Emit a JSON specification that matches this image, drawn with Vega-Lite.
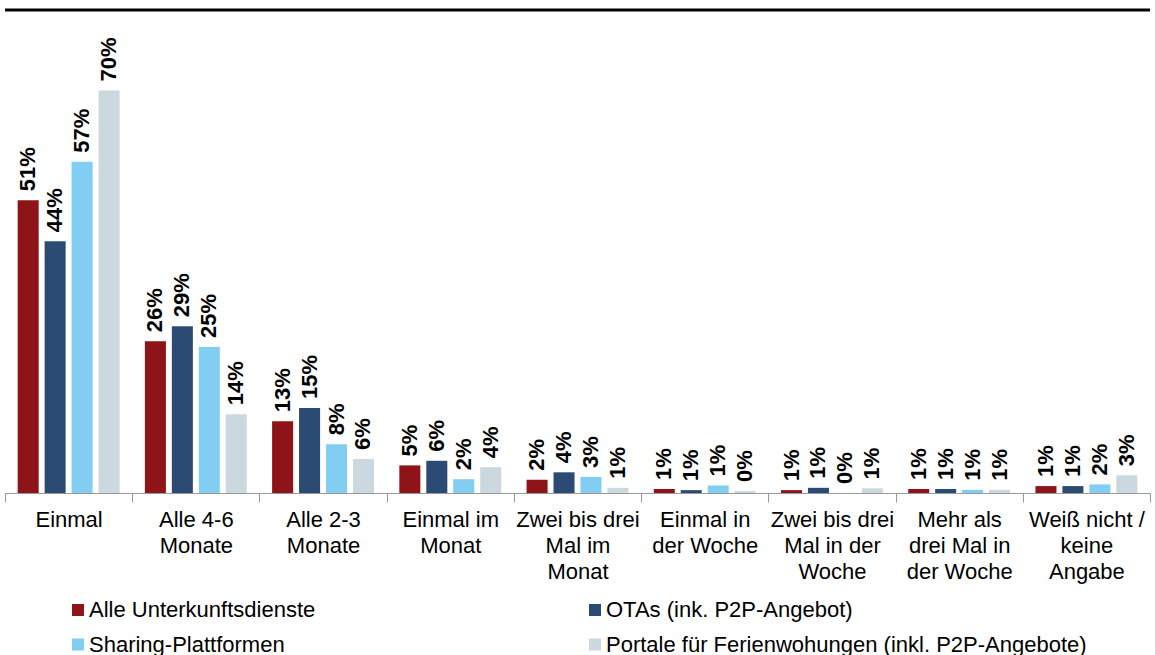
{
  "$schema": "https://vega.github.io/schema/vega-lite/v6.json",
  "width": 1145,
  "height": 483,
  "autosize": {"type": "none"},
  "padding": {"left": 5, "top": 10, "right": 5, "bottom": 162},
  "background": "white",
  "config": {"view": {"stroke": null}, "font": "Liberation Sans"},
  "data": {"values": [
    {"cat": "Einmal", "series": "Alle Unterkunftsdienste", "value": 50.9, "label": "51%"},
    {"cat": "Einmal", "series": "OTAs (ink. P2P-Angebot)", "value": 43.8, "label": "44%"},
    {"cat": "Einmal", "series": "Sharing-Plattformen", "value": 57.6, "label": "57%"},
    {"cat": "Einmal", "series": "Portale für Ferienwohungen (inkl. P2P-Angebote)", "value": 70, "label": "70%"},
    {"cat": "Alle 4-6|Monate", "series": "Alle Unterkunftsdienste", "value": 26.4, "label": "26%"},
    {"cat": "Alle 4-6|Monate", "series": "OTAs (ink. P2P-Angebot)", "value": 29.0, "label": "29%"},
    {"cat": "Alle 4-6|Monate", "series": "Sharing-Plattformen", "value": 25.4, "label": "25%"},
    {"cat": "Alle 4-6|Monate", "series": "Portale für Ferienwohungen (inkl. P2P-Angebote)", "value": 13.7, "label": "14%"},
    {"cat": "Alle 2-3|Monate", "series": "Alle Unterkunftsdienste", "value": 12.5, "label": "13%"},
    {"cat": "Alle 2-3|Monate", "series": "OTAs (ink. P2P-Angebot)", "value": 14.8, "label": "15%"},
    {"cat": "Alle 2-3|Monate", "series": "Sharing-Plattformen", "value": 8.5, "label": "8%"},
    {"cat": "Alle 2-3|Monate", "series": "Portale für Ferienwohungen (inkl. P2P-Angebote)", "value": 5.9, "label": "6%"},
    {"cat": "Einmal im|Monat", "series": "Alle Unterkunftsdienste", "value": 4.8, "label": "5%"},
    {"cat": "Einmal im|Monat", "series": "OTAs (ink. P2P-Angebot)", "value": 5.6, "label": "6%"},
    {"cat": "Einmal im|Monat", "series": "Sharing-Plattformen", "value": 2.4, "label": "2%"},
    {"cat": "Einmal im|Monat", "series": "Portale für Ferienwohungen (inkl. P2P-Angebote)", "value": 4.5, "label": "4%"},
    {"cat": "Zwei bis drei|Mal im|Monat", "series": "Alle Unterkunftsdienste", "value": 2.3, "label": "2%"},
    {"cat": "Zwei bis drei|Mal im|Monat", "series": "OTAs (ink. P2P-Angebot)", "value": 3.6, "label": "4%"},
    {"cat": "Zwei bis drei|Mal im|Monat", "series": "Sharing-Plattformen", "value": 2.8, "label": "3%"},
    {"cat": "Zwei bis drei|Mal im|Monat", "series": "Portale für Ferienwohungen (inkl. P2P-Angebote)", "value": 0.9, "label": "1%"},
    {"cat": "Einmal in|der Woche", "series": "Alle Unterkunftsdienste", "value": 0.7, "label": "1%"},
    {"cat": "Einmal in|der Woche", "series": "OTAs (ink. P2P-Angebot)", "value": 0.5, "label": "1%"},
    {"cat": "Einmal in|der Woche", "series": "Sharing-Plattformen", "value": 1.3, "label": "1%"},
    {"cat": "Einmal in|der Woche", "series": "Portale für Ferienwohungen (inkl. P2P-Angebote)", "value": 0.35, "label": "0%"},
    {"cat": "Zwei bis drei|Mal in der|Woche", "series": "Alle Unterkunftsdienste", "value": 0.5, "label": "1%"},
    {"cat": "Zwei bis drei|Mal in der|Woche", "series": "OTAs (ink. P2P-Angebot)", "value": 0.9, "label": "1%"},
    {"cat": "Zwei bis drei|Mal in der|Woche", "series": "Sharing-Plattformen", "value": 0, "label": "0%"},
    {"cat": "Zwei bis drei|Mal in der|Woche", "series": "Portale für Ferienwohungen (inkl. P2P-Angebote)", "value": 0.8, "label": "1%"},
    {"cat": "Mehr als|drei Mal in|der Woche", "series": "Alle Unterkunftsdienste", "value": 0.7, "label": "1%"},
    {"cat": "Mehr als|drei Mal in|der Woche", "series": "OTAs (ink. P2P-Angebot)", "value": 0.7, "label": "1%"},
    {"cat": "Mehr als|drei Mal in|der Woche", "series": "Sharing-Plattformen", "value": 0.55, "label": "1%"},
    {"cat": "Mehr als|drei Mal in|der Woche", "series": "Portale für Ferienwohungen (inkl. P2P-Angebote)", "value": 0.55, "label": "1%"},
    {"cat": "Weiß nicht /|keine|Angabe", "series": "Alle Unterkunftsdienste", "value": 1.2, "label": "1%"},
    {"cat": "Weiß nicht /|keine|Angabe", "series": "OTAs (ink. P2P-Angebot)", "value": 1.2, "label": "1%"},
    {"cat": "Weiß nicht /|keine|Angabe", "series": "Sharing-Plattformen", "value": 1.5, "label": "2%"},
    {"cat": "Weiß nicht /|keine|Angabe", "series": "Portale für Ferienwohungen (inkl. P2P-Angebote)", "value": 3.1, "label": "3%"}
  ]},
  "encoding": {
    "x": {
      "field": "cat", "type": "nominal", "sort": null,
      "scale": {"paddingInner": 0, "paddingOuter": 0},
      "axis": {
        "title": null, "labelAngle": 0, "labelExpr": "split(datum.label, '|')",
        "labelFont": "Liberation Sans", "labelFontSize": 22, "labelLineHeight": 26, "labelColor": "#000000",
        "labelPadding": 7, "labelBaseline": "top", "labelLimit": 200,
        "domainColor": "#999999", "tickColor": "#999999", "tickSize": 9, "tickBand": "extent",
        "ticks": true, "grid": false
      }
    },
    "xOffset": {
      "field": "series", "type": "nominal", "sort": null,
      "scale": {"paddingInner": 0.22, "paddingOuter": 0.47}
    },
    "y": {
      "field": "value", "type": "quantitative",
      "scale": {"domain": [0, 84], "nice": false},
      "axis": null
    }
  },
  "layer": [
    {
      "mark": {"type": "bar"},
      "encoding": {
        "color": {
          "field": "series", "type": "nominal", "sort": null,
          "scale": {
            "domain": ["Alle Unterkunftsdienste", "OTAs (ink. P2P-Angebot)", "Sharing-Plattformen", "Portale für Ferienwohungen (inkl. P2P-Angebote)"],
            "range": ["#8F1419", "#2C4B74", "#82CDF2", "#CBD8E0"]
          },
          "legend": {
            "title": null, "orient": "none", "legendX": 62, "legendY": 589, "padding": 0,
            "columns": 2, "columnPadding": 268, "rowPadding": 12.5,
            "symbolType": "square", "symbolSize": 144, "symbolStrokeWidth": 0,
            "labelFont": "Liberation Sans", "labelFontSize": 22, "labelColor": "#000000", "labelLimit": 600, "labelOffset": 0,
            "direction": "horizontal"
          }
        }
      }
    },
    {
      "mark": {"type": "text", "angle": 270, "align": "left", "baseline": "middle", "dx": 9, "font": "Liberation Sans", "fontSize": 22, "fontWeight": "bold", "color": "#000000"},
      "encoding": {"text": {"field": "label"}}
    },
    {
      "data": {"values": [{"top": 84}]},
      "mark": {"type": "rule", "color": "#000000", "strokeWidth": 3},
      "encoding": {"y": {"field": "top", "type": "quantitative"}, "x": null, "xOffset": null}
    }
  ]
}
